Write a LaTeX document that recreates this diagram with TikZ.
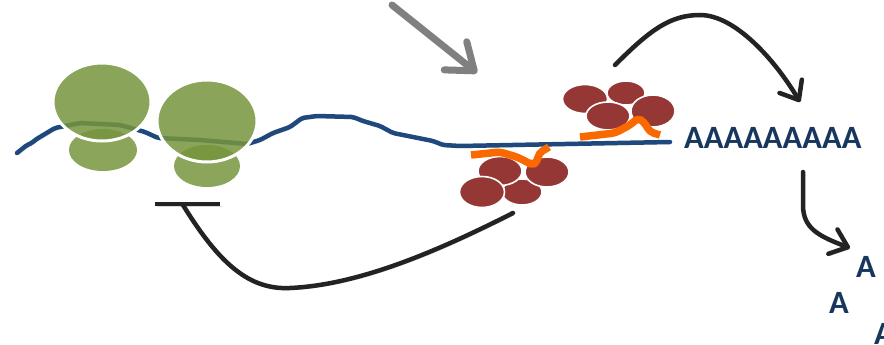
\documentclass[tikz,border=0pt]{standalone}
\usepackage{fontspec}
\setmainfont{Carlito}
\usetikzlibrary{arrows.meta,shapes.geometric}

\definecolor{mrna}{RGB}{31,73,125}
\definecolor{polya}{RGB}{23,55,94}
\definecolor{ribogreen}{RGB}{139,165,90}
\definecolor{ribogreenbig}{RGB}{118,149,61}
\definecolor{clusterred}{RGB}{149,55,53}
\definecolor{peptide}{RGB}{250,105,0}
\definecolor{arrowgrey}{RGB}{128,128,128}
\definecolor{arrowdark}{RGB}{35,35,35}

\tikzset{
  dropshadow/.style={preaction={draw=black, draw opacity=0.15,
      transform canvas={shift={(1.5pt,-2pt)}}}},
  mrna line/.style={draw=mrna, line width=4.5pt, line join=round,
      line cap=round, rounded corners=2pt, dropshadow},
  subunit small/.style={ellipse, fill=ribogreen, inner sep=0pt},
  subunit large/.style={ellipse, fill=ribogreenbig, fill opacity=0.85,
      draw=white, draw opacity=1, line width=3pt, inner sep=0pt},
  lobe/.style={ellipse, fill=clusterred, draw=white, line width=1.6pt,
      inner sep=0pt},
  chain/.style={draw=peptide, line width=7.5pt, line join=round,
      rounded corners=4pt},
  flow/.style={draw=arrowdark, line width=4.5pt, line cap=round,
      -{Straight Barb[round,length=16pt,width=26pt]}, dropshadow},
  signal/.style={draw=arrowgrey, line width=7pt, line cap=round,
      -{Straight Barb[round,length=24pt,width=36pt]}, dropshadow},
  inhibit/.style={draw=arrowdark, line width=4.5pt, dropshadow},
  base letters/.style={text=polya, font=\fontsize{32.5}{33}\selectfont\bfseries,
      inner sep=0pt, anchor=base west},
}

\begin{document}
\begin{tikzpicture}[x=1pt,y=-1pt]
  \useasboundingbox (0,0) rectangle (884,345);
  \clip (0,0) rectangle (884,345);
  \fill[white] (0,0) rectangle (884,345);

  % messenger RNA strand
  \draw[mrna line] (17,153) -- (27,145) -- (32,143) -- (35,140) -- (55,128)
    -- (80,123) -- (120,125) -- (145,132) -- (158,138) -- (200,140)
    -- (247,144) -- (260,140) -- (273,133) -- (290,127) -- (302,118)
    -- (317,116) -- (353,117) -- (363,121) -- (380,126) -- (393,133)
    -- (413,137) -- (433,141) -- (443,145) -- (460,146) -- (670,142);

  % ribosomes: small subunit below, large subunit on top
  \node[subunit small, minimum width=68pt, minimum height=42pt] (r1s) at (103,150) {};
  \node[subunit large, minimum width=98pt, minimum height=78pt] (r1l) at (102,102) {};
  \node[subunit small, minimum width=66pt, minimum height=42pt] (r2s) at (207,166) {};
  \node[subunit large, minimum width=100pt, minimum height=82pt] (r2l) at (207,121) {};

  % protein complex bound below the strand
  \node[lobe, minimum width=40pt, minimum height=26pt] (c1bm) at (522,192) {};
  \node[lobe, minimum width=44pt, minimum height=29pt] (c1tl) at (500,171) {};
  \node[lobe, minimum width=44pt, minimum height=30pt] (c1rt) at (547,172) {};
  \node[lobe, minimum width=45pt, minimum height=31pt] (c1lb) at (482,192) {};
  \draw[chain] (471,155) -- (500,152) -- (517,157) -- (527,162) -- (532,165)
    -- (537,162) -- (539,153) -- (549,147);

  % protein complex bound above the strand
  \node[lobe, minimum width=38pt, minimum height=24pt] (c2tm) at (626,93) {};
  \node[lobe, minimum width=45pt, minimum height=29pt] (c2lf) at (585,99) {};
  \node[lobe, minimum width=44pt, minimum height=28pt] (c2bm) at (608,116) {};
  \node[lobe, minimum width=44pt, minimum height=32pt] (c2rt) at (653,111) {};
  \draw[chain] (580,137) -- (615,133) -- (630,125) -- (638,118) -- (644,122)
    -- (650,132) -- (660,135);

  % poly(A) tail and released adenosines
  \node[base letters] (tail) at (684,148) {AAAAAAAAA};
  \node[base letters] (freeA1) at (856,277) {A};
  \node[base letters] (freeA2) at (829,313) {A};
  \node[base letters] (freeA3) at (874,344) {A};

  % arrows
  \coordinate (g0) at (392,5);
  \coordinate (g1) at (477,73);
  \draw[signal] (g0) -- (g1);

  \coordinate (d0) at (615,65);
  \coordinate (d1) at (800,102);
  \draw[flow] (d0) .. controls (650,30) and (670,15) .. (700,15)
    .. controls (735,15) and (775,60) .. (d1);

  \coordinate (e0) at (803,172);
  \coordinate (e1) at (850,248);
  \draw[flow] (e0) -- (803,205) .. controls (803,228) and (818,236) .. (e1);

  % repression back onto the ribosomes
  \coordinate (h0) at (513,213);
  \coordinate (h1) at (183,205);
  \coordinate (barL) at (155,204);
  \coordinate (barR) at (220,204);
  \draw[inhibit, line cap=round] (h0) .. controls (440,250) and (360,285) .. (290,288)
    .. controls (250,290) and (220,265) .. (h1);
  \draw[inhibit] (barL) -- (barR);
\end{tikzpicture}
\end{document}
